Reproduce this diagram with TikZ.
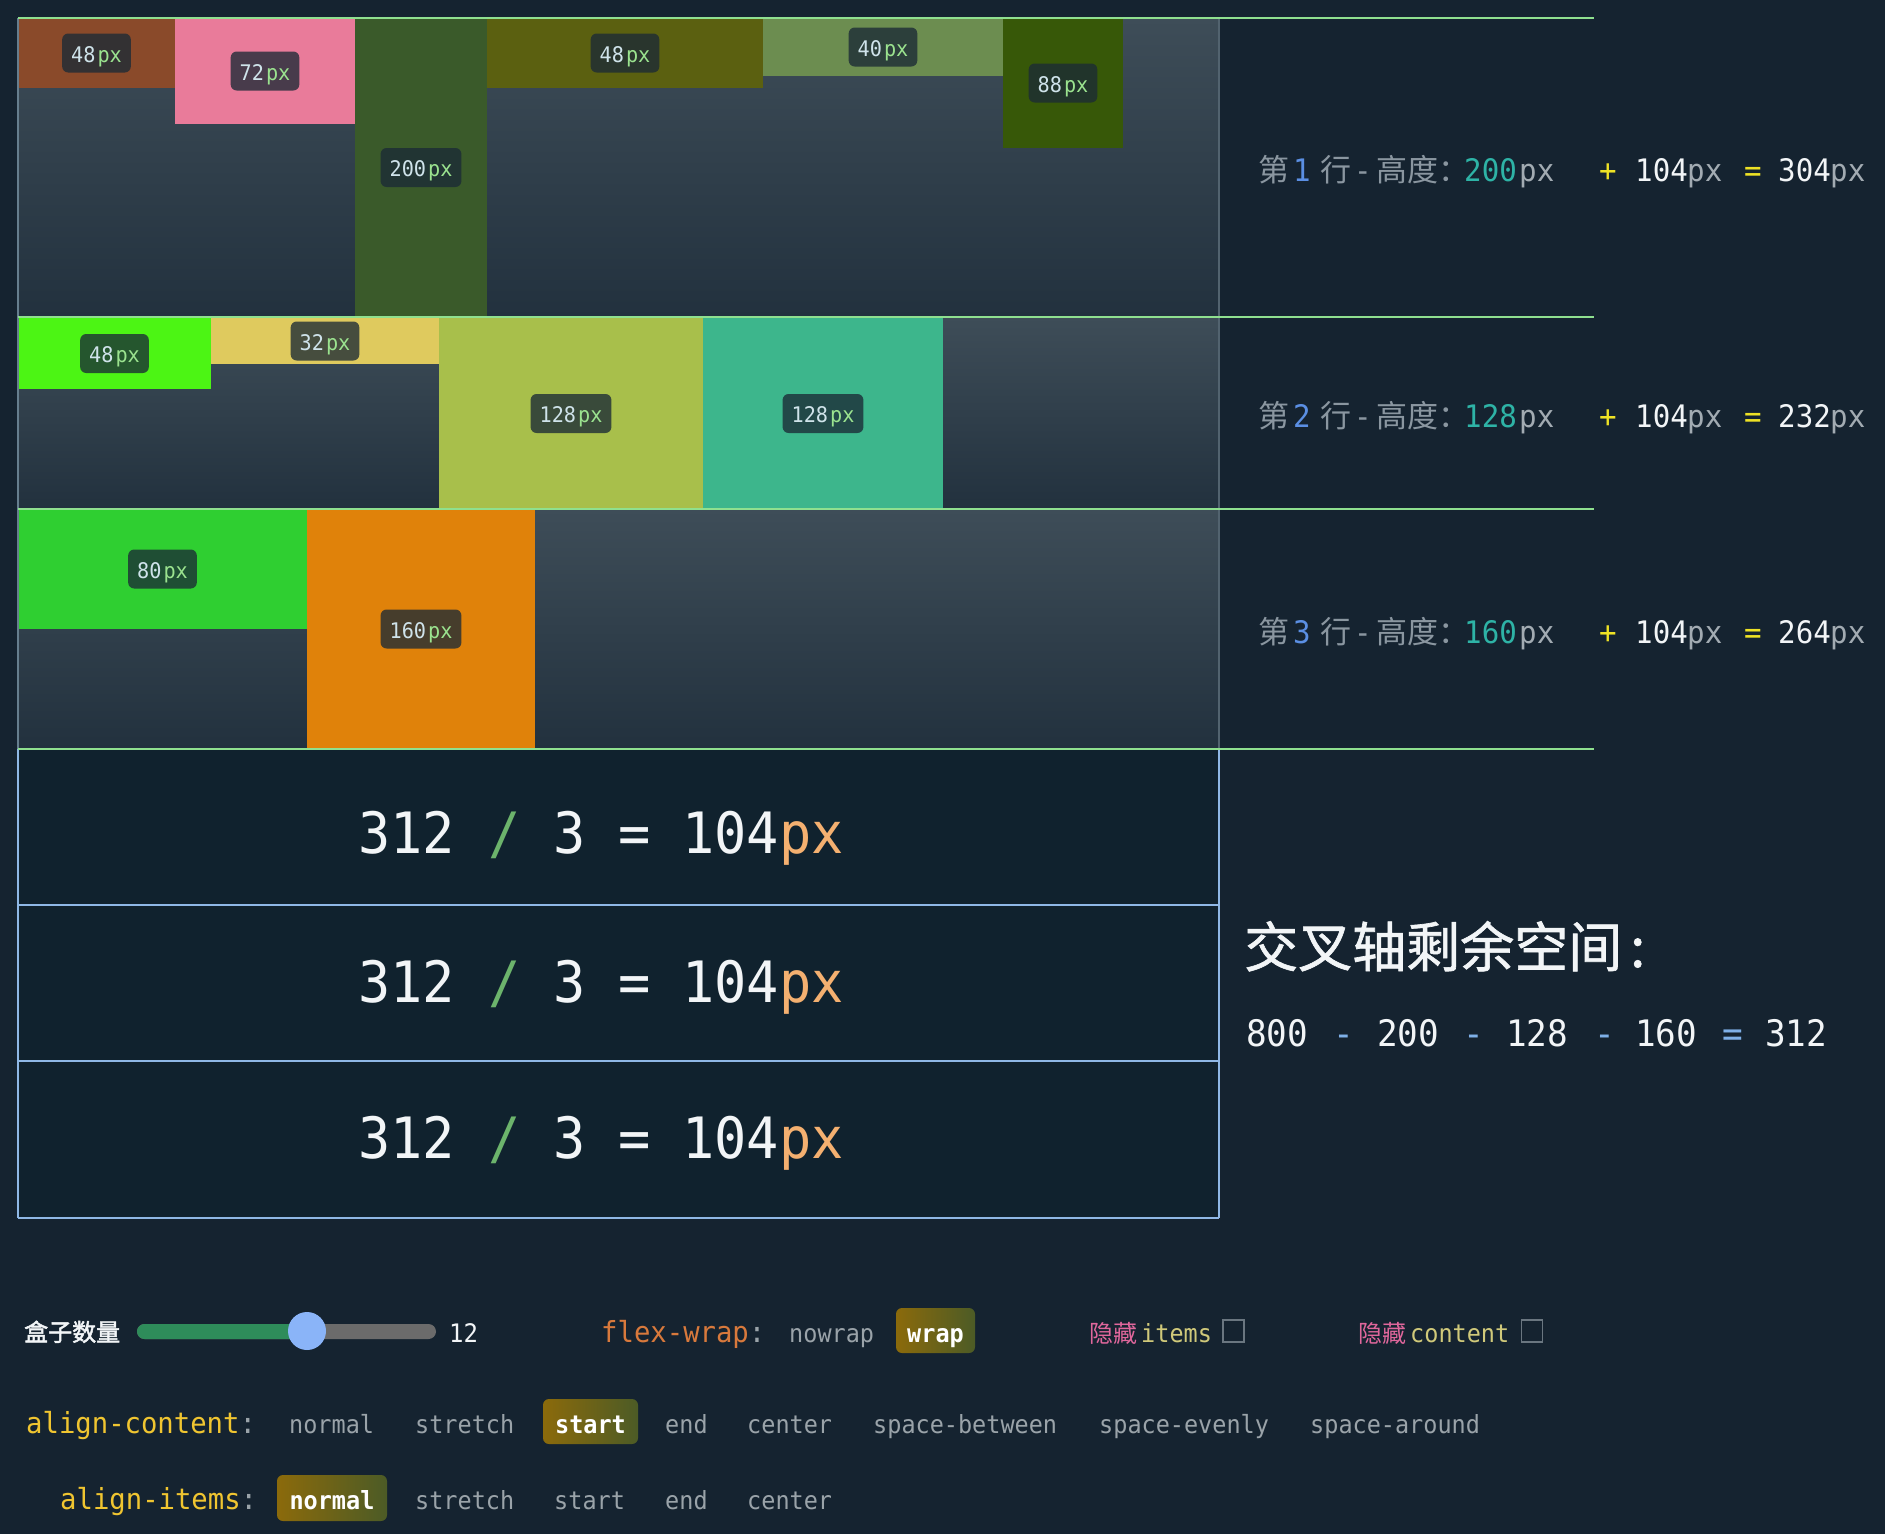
\documentclass[tikz,border=0pt]{standalone}
\usepackage{fontspec}
\newfontfamily\mono[FakeStretch=0.94]{DejaVu Sans Mono}
\newfontfamily\cjk{Noto Sans CJK SC}
\newfontfamily\cjkm[FakeBold=1.2]{Noto Sans CJK SC}
\newfontfamily\cjkh[FakeBold=2]{Noto Sans CJK SC}
\newcommand\fs[1]{\fontsize{#1}{#1}\selectfont}
\definecolor{bg}{HTML}{152330}
\definecolor{rowtop}{HTML}{3E4D58}
\definecolor{rowbot}{HTML}{22313E}
\definecolor{gline}{HTML}{8FE08F}
\definecolor{bline}{HTML}{8FB8E6}
\definecolor{edgel}{HTML}{667E8E}
\definecolor{edger}{HTML}{52636F}
\definecolor{calcbg}{HTML}{10222E}
\definecolor{chipnum}{HTML}{CFE3EA}
\definecolor{chippx}{HTML}{9BE38F}
\definecolor{chipbg}{HTML}{1B2A36}
\definecolor{lgray}{HTML}{8A96A0}
\definecolor{lblue}{HTML}{5B8FE3}
\definecolor{lteal}{HTML}{2EB3A6}
\definecolor{lpx}{HTML}{A2ABB2}
\definecolor{yel}{HTML}{EEE225}
\definecolor{wht}{HTML}{F2F5F7}
\definecolor{slash}{HTML}{6CB46C}
\definecolor{pxor}{HTML}{F4B070}
\definecolor{minus}{HTML}{7FB0E8}
\definecolor{opt}{HTML}{9AA3A9}
\definecolor{lblyel}{HTML}{F0C530}
\definecolor{lblor}{HTML}{D8793C}
\definecolor{pink}{HTML}{E0679C}
\definecolor{paley}{HTML}{D0C97A}
\definecolor{selL}{HTML}{8B6A0B}
\definecolor{selR}{HTML}{4C5B26}
\definecolor{trkg}{HTML}{2E8C5A}
\definecolor{trkr}{HTML}{6B6B6B}
\definecolor{thumb}{HTML}{8AB4F8}
\definecolor{cbx}{HTML}{6A7680}
\definecolor{b11}{HTML}{8A4A2A}
\definecolor{b12}{HTML}{E97B9A}
\definecolor{b13}{HTML}{3A5A2A}
\definecolor{b14}{HTML}{5B6010}
\definecolor{b15}{HTML}{6C8D50}
\definecolor{b16}{HTML}{375808}
\definecolor{b21}{HTML}{4CF514}
\definecolor{b22}{HTML}{DFCA5E}
\definecolor{b23}{HTML}{A8BF4B}
\definecolor{b24}{HTML}{3DB68C}
\definecolor{b31}{HTML}{2FCF31}
\definecolor{b32}{HTML}{E0820A}
\newcommand\chipt[1]{\textcolor{chipnum}{#1}\hspace{2pt}\textcolor{chippx}{px}}
\begin{document}
\begin{tikzpicture}[x=1pt,y=-1pt,
  chip/.style={fill=chipbg, fill opacity=0.78, text opacity=1, rounded corners=6pt,
    inner xsep=9pt, inner ysep=0pt, text height=21pt, text depth=3pt, minimum height=39pt,
    font=\mono\fs{21.5}},
  tok/.style={anchor=base west, inner sep=0pt},
  rcjk/.style={tok, text=lgray, font=\cjk\fs{31}},
  rmono/.style={tok, font=\mono\fs{31}},
  big/.style={tok, font=\mono\fs{57}},
  mid/.style={tok, font=\mono\fs{36.5}},
  lbl/.style={tok, font=\mono\fs{29}},
  optn/.style={tok, text=opt, font=\mono\fs{25}},
  seltext/.style={anchor=base, inner sep=0pt, text=white, font=\mono\bfseries\fs{25}},
  selbox/.style={left color=selL, right color=selR, rounded corners=6pt},
  cbox/.style={draw=cbx, line width=1.3pt, minimum width=21pt, minimum height=22pt, inner sep=0pt},
  gl/.style={draw=gline, line width=2.5pt},
  bl/.style={draw=bline, line width=1.4pt}
]
\useasboundingbox (0,0) rectangle (1885,1534);
\fill[bg] (0,0) rectangle (1885,1534);

% row backgrounds
\shade[top color=rowtop, bottom color=rowbot] (18,18) rectangle (1219,317);
\shade[top color=rowtop, bottom color=rowbot] (18,317) rectangle (1219,509);
\shade[top color=rowtop, bottom color=rowbot] (18,509) rectangle (1219,749);

% row 1 boxes
\fill[b11] (18,18) rectangle (175,88);
\fill[b12] (175,18) rectangle (355,124);
\fill[b13] (355,18) rectangle (487,317);
\fill[b14] (487,18) rectangle (763,88);
\fill[b15] (763,18) rectangle (1003,76);
\fill[b16] (1003,18) rectangle (1123,148);
% row 2 boxes
\fill[b21] (18,317) rectangle (211,389);
\fill[b22] (211,317) rectangle (439,364);
\fill[b23] (439,317) rectangle (703,509);
\fill[b24] (703,317) rectangle (943,509);
% row 3 boxes
\fill[b31] (18,509) rectangle (307,629);
\fill[b32] (307,509) rectangle (535,749);

% chips
\node[chip] (c11) at (96.5,53) {\chipt{48}};
\node[chip] (c12) at (265,71) {\chipt{72}};
\node[chip] (c13) at (421,167.5) {\chipt{200}};
\node[chip] (c14) at (625,53) {\chipt{48}};
\node[chip] (c15) at (883,47) {\chipt{40}};
\node[chip] (c16) at (1063,83) {\chipt{88}};
\node[chip] (c21) at (114.5,353.5) {\chipt{48}};
\node[chip] (c22) at (325,341) {\chipt{32}};
\node[chip] (c23) at (571,413.5) {\chipt{128}};
\node[chip] (c24) at (823,413.5) {\chipt{128}};
\node[chip] (c31) at (162.5,569) {\chipt{80}};
\node[chip] (c32) at (421,629) {\chipt{160}};

% calc area
\fill[calcbg] (18,749) rectangle (1219,1218);
\draw[bl] (18,905) -- (1219,905);
\draw[bl] (18,1061) -- (1219,1061);
\draw[draw=bline, line width=2.5pt] (18,1218) -- (1219,1218);
\draw[draw=bline, line width=1.2pt] (18,749) -- (18,1218);
\draw[draw=bline, line width=1.2pt] (1219,749) -- (1219,1218);
\draw[draw=edgel, line width=1.2pt] (18,18) -- (18,749);
\draw[draw=edger, line width=1.2pt] (1219,18) -- (1219,749);

% green row lines
\draw[gl] (18,18) -- (1594,18);
\draw[gl] (18,317) -- (1594,317);
\draw[gl] (18,509) -- (1594,509);
\draw[gl] (18,749) -- (1594,749);

% row labels
\foreach \r/\by/\h/\t in {1/181/200/304,2/427/128/232,3/643/160/264}{
  \node[rcjk] (ra\r) at (1258,\by) {第};
  \node[rmono, text=lblue] (rb\r) at (1293,\by) {\r};
  \node[rcjk] (rc\r) at (1320,\by) {行};
  \node[rmono, text=lgray] (rd\r) at (1354,\by) {-};
  \node[rcjk] (re\r) at (1376,\by) {高度：};
  \node[rmono, text=lteal] (rf\r) at (1464,\by) {\h};
  \node[rmono, text=lpx] (rg\r) at (1519,\by) {px};
  \node[rmono, text=yel] (rh\r) at (1599,\by) {+};
  \node[rmono, text=wht] (ri\r) at (1635,\by) {104};
  \node[rmono, text=lpx] (rj\r) at (1687,\by) {px};
  \node[rmono, text=yel] (rk\r) at (1744,\by) {=};
  \node[rmono, text=wht] (rl\r) at (1778,\by) {\t};
  \node[rmono, text=lpx] (rm\r) at (1830,\by) {px};
}

% 312 / 3 = 104px
\foreach \k/\by in {1/853,2/1002,3/1158}{
  \node[big, text=wht] (qa\k) at (358,\by) {312};
  \node[big, text=slash] (qb\k) at (488,\by) {/};
  \node[big, text=wht] (qc\k) at (553,\by) {3};
  \node[big, text=wht] (qd\k) at (618,\by) {=};
  \node[big, text=wht] (qe\k) at (682,\by) {104};
  \node[big, text=pxor] (qf\k) at (779,\by) {px};
}

% heading
\node[tok, text=wht, font=\cjkm\fs{54}] (head) at (1244,967) {交叉轴剩余空间};
\node[tok, text=wht, font=\cjkm\fs{54}] (headc) at (1630,967) {:};
\node[mid, text=wht] (sa) at (1246,1046) {800};
\node[mid, text=minus] (sb) at (1333,1046) {-};
\node[mid, text=wht] (sc) at (1377,1046) {200};
\node[mid, text=minus] (sd) at (1463,1046) {-};
\node[mid, text=wht] (se) at (1506,1046) {128};
\node[mid, text=minus] (sf) at (1594,1046) {-};
\node[mid, text=wht] (sg) at (1635,1046) {160};
\node[mid, text=minus] (sh) at (1722,1046) {=};
\node[mid, text=wht] (si) at (1765,1046) {312};

% controls row 1
\node[tok, text=wht, font=\cjkh\fs{24}] (boxn) at (24,1341) {盒子数量};
\fill[trkr, rounded corners=7.5pt] (137,1324) rectangle (436,1339);
\fill[trkg, rounded corners=7.5pt] (137,1324) rectangle (310,1339);
\node[circle, fill=thumb, minimum size=38pt, inner sep=0pt] (thumbn) at (307,1331) {};
\node[tok, text=wht, font=\mono\fs{25.5}] (cnt) at (449,1342) {12};
\node[lbl, text=lblor] (fw) at (601,1342) {flex-wrap\textcolor{opt}{:}};
\node[optn] (fwa) at (789,1342) {nowrap};
\shade[selbox] (896,1308) rectangle (975,1353);
\node[seltext] (fwb) at (935.5,1342) {wrap};
\node[tok, text=pink, font=\cjk\fs{24}] (hi1) at (1089,1342) {隐藏};
\node[optn, text=paley] (hi1b) at (1141,1342) {items};
\node[cbox] (cb1) at (1233.5,1331) {};
\node[tok, text=pink, font=\cjk\fs{24}] (hi2) at (1358,1342) {隐藏};
\node[optn, text=paley] (hi2b) at (1410,1342) {content};
\node[cbox] (cb2) at (1532,1331) {};

% controls row 2
\node[lbl, text=lblyel] (ac) at (26,1433) {align-content\textcolor{opt}{:}};
\node[optn] (aca) at (289,1433) {normal};
\node[optn] (acb) at (415,1433) {stretch};
\shade[selbox] (543,1399) rectangle (638,1444);
\node[seltext] (acc) at (590.5,1433) {start};
\node[optn] (acd) at (665,1433) {end};
\node[optn] (ace) at (747,1433) {center};
\node[optn] (acf) at (873,1433) {space-between};
\node[optn] (acg) at (1099,1433) {space-evenly};
\node[optn] (ach) at (1310,1433) {space-around};

% controls row 3
\node[lbl, text=lblyel] (ai) at (60,1509) {align-items\textcolor{opt}{:}};
\shade[selbox] (277,1475) rectangle (387,1521);
\node[seltext] (aia) at (332,1509) {normal};
\node[optn] (aib) at (415,1509) {stretch};
\node[optn] (aic) at (554,1509) {start};
\node[optn] (aid) at (665,1509) {end};
\node[optn] (aie) at (747,1509) {center};
\end{tikzpicture}
\end{document}
